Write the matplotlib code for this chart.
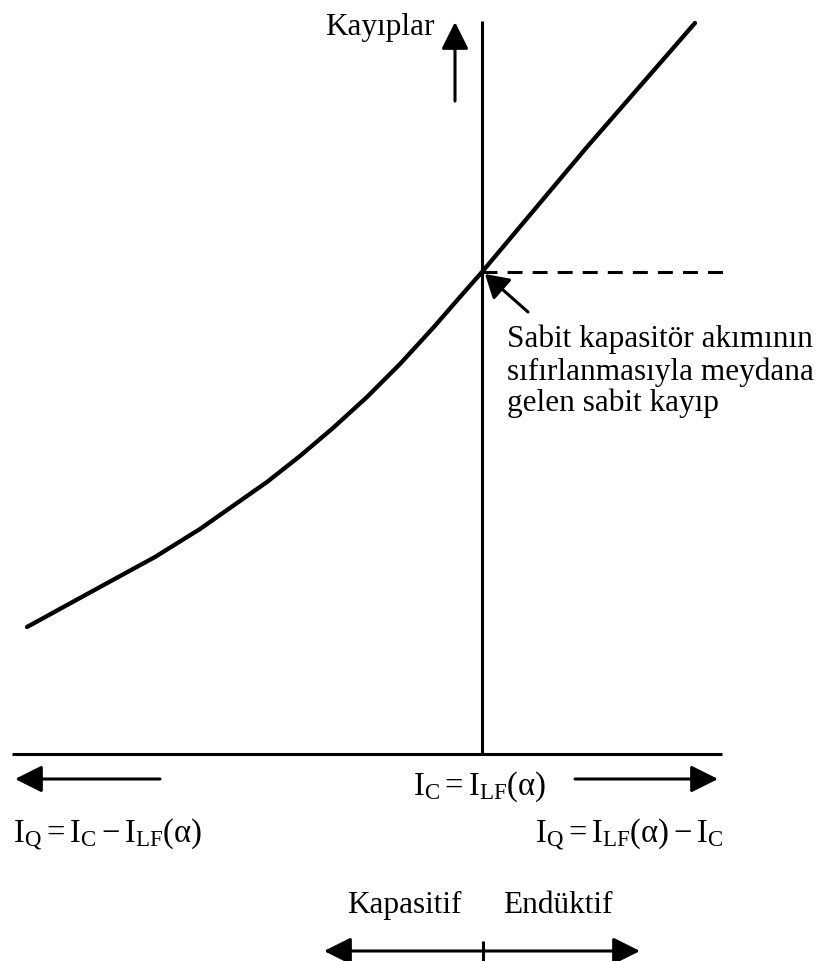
import matplotlib
matplotlib.use("Agg")
import matplotlib.pyplot as plt

plt.rcParams['font.family'] = ['Liberation Serif', 'DejaVu Serif']
plt.rcParams['mathtext.fontset'] = 'custom'
plt.rcParams['mathtext.rm'] = 'Liberation Serif'
plt.rcParams['mathtext.it'] = 'Liberation Serif:italic'
plt.rcParams['mathtext.bf'] = 'Liberation Serif:bold'

# loss curve vs. capacitor current (origin at I_C = I_LF(alpha))
current = [-4.55, -3.82, -3.27, -2.82, -2.15, -1.82, -1.49, -1.15, -0.82,
           -0.49, -0.22, 0.0, 1.05, 2.13]
losses = [1.27, 1.67, 1.97, 2.25, 2.72, 2.98, 3.26, 3.57, 3.90,
          4.26, 4.57, 4.82, 6.07, 7.31]
fixed_loss = 4.82

y_label = 'Kayıplar'
note_lines = ['Sabit kapasitör akımının',
              'sıfırlanmasıyla meydana',
              'gelen sabit kayıp']
center_label = r'$\mathrm{I_C = I_{LF}(\alpha)}$'
left_label = r'$\mathrm{I_Q = I_C - I_{LF}(\alpha)}$'
right_label = r'$\mathrm{I_Q = I_{LF}(\alpha) - I_C}$'
region_labels = ['Kapasitif', 'Endüktif']

FS = 22.5
FS_MATH = 23.5

fig = plt.figure(figsize=(8.21, 9.62), dpi=100)
ax = fig.add_axes([0, 0, 1, 1])
ax.set_xlim(-4.82, 3.39)
ax.set_ylim(-2.07, 7.55)
ax.axis('off')

# axes
ax.plot([0, 0], [0, 7.33], color='black', lw=2.2, solid_capstyle='butt')
ax.plot([-4.70, 2.40], [0, 0], color='black', lw=2.2, solid_capstyle='butt')

# losses curve and fixed-loss level
ax.plot(current, losses, color='black', lw=3.1, solid_capstyle='round',
        solid_joinstyle='round')
ax.plot([0, 2.41], [fixed_loss, fixed_loss], color='black', lw=2.2,
        linestyle=(0, (4.9, 3.3)))

head = dict(arrowstyle='-|>,head_length=0.5,head_width=0.25',
            mutation_scale=33, color='black', lw=2.2, shrinkA=0, shrinkB=0)

# y direction arrow and label
ax.annotate('', xy=(-0.27, 7.32), xytext=(-0.27, 6.53), arrowprops=head)
ax.text(-1.57, 7.20, y_label, fontsize=FS, ha='left', va='baseline')

# note pointing at the intersection
ax.annotate('', xy=(0.03, 4.80), xytext=(0.46, 4.42),
            arrowprops=dict(arrowstyle='-|>,head_length=0.5,head_width=0.3',
                            mutation_scale=28, color='black', lw=2.2,
                            shrinkA=0, shrinkB=0))
for line, yb in zip(note_lines, [4.08, 3.75, 3.44]):
    ax.text(0.25, yb, line, fontsize=FS, ha='left', va='baseline')

# current direction arrows
ax.annotate('', xy=(-4.67, -0.25), xytext=(-3.22, -0.25), arrowprops=head)
ax.annotate('', xy=(2.36, -0.25), xytext=(0.93, -0.25), arrowprops=head)

ax.text(-0.69, -0.40, center_label, fontsize=FS_MATH, ha='left', va='baseline')
ax.text(-4.69, -0.88, left_label, fontsize=FS_MATH, ha='left', va='baseline')
ax.text(0.53, -0.88, right_label, fontsize=FS_MATH, ha='left', va='baseline')

# capacitive / inductive region
ax.text(-1.35, -1.58, region_labels[0], fontsize=FS, ha='left', va='baseline')
ax.text(0.21, -1.58, region_labels[1], fontsize=FS, ha='left', va='baseline')
ax.annotate('', xy=(-1.58, -1.97), xytext=(1.58, -1.97),
            arrowprops=dict(arrowstyle='<|-|>,head_length=0.5,head_width=0.25',
                            mutation_scale=33, color='black', lw=2.2,
                            shrinkA=0, shrinkB=0))
ax.plot([0.01, 0.01], [-1.87, -2.07], color='black', lw=2.2,
        solid_capstyle='butt')

fig.savefig('out.png', dpi=100)
